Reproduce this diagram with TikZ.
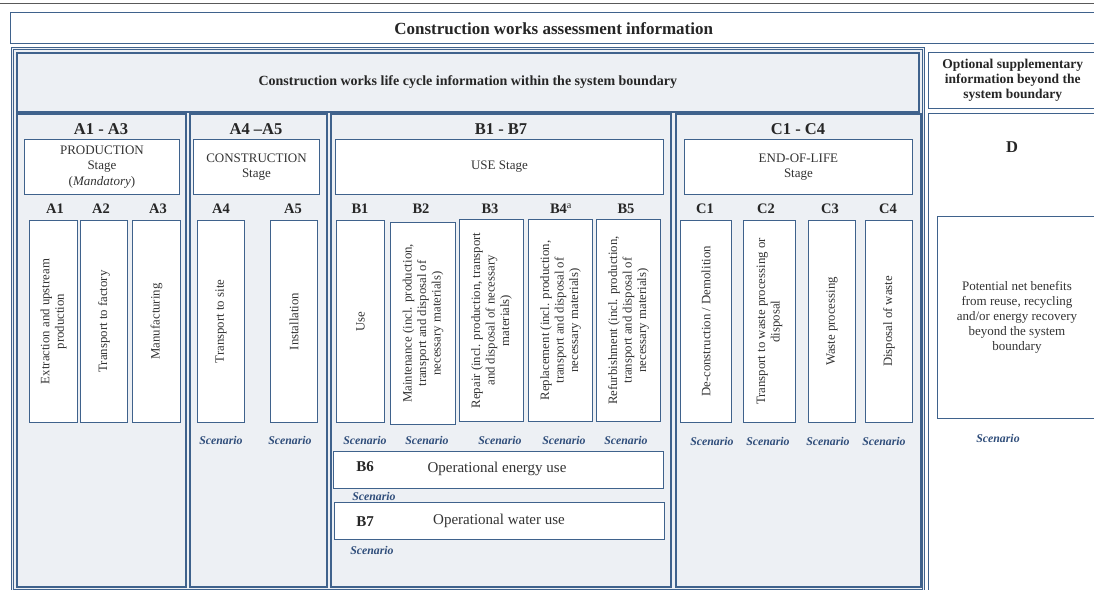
\documentclass[tikz,border=0pt]{standalone}
\usepackage{fontspec}
\setmainfont{Liberation Serif}
\definecolor{bd}{HTML}{3F628C}
\definecolor{bg}{HTML}{EDF0F4}
\definecolor{tx}{HTML}{333333}
\definecolor{sc}{HTML}{2F4D7A}
\newcommand{\bx}[7]{\node[#6, anchor=north west, minimum width={(#4-#2)*1pt}, minimum height={(#5-#3)*1pt}] (#1) at (#2,#3) {#7};}
\tikzset{
  panel/.style={draw=bd, line width=2pt, fill=bg, inner sep=0pt},
  outer/.style={draw=bd, line width=0.8pt, double=bg, double distance=1.4pt, fill=bg, inner sep=0pt},
  wbox/.style={draw=bd, line width=0.9pt, fill=white, inner sep=0pt, align=center, text=tx},
  gbox/.style={draw=bd, line width=1.6pt, fill=bg, inner sep=0pt, align=center},
  hdr/.style={font=\bfseries\fontsize{16.5}{18}\selectfont, text=black!85},
  lab/.style={font=\bfseries\fontsize{14.5}{16}\selectfont, text=black!85},
  stg/.style={font=\fontsize{13}{15.5}\selectfont},
  vt/.style={rotate=90, font=\fontsize{12.8}{14.5}\selectfont, align=center, text=tx, inner sep=0pt},
  scn/.style={font=\bfseries\itshape\fontsize{11.8}{13}\selectfont, text=sc},
  big/.style={font=\fontsize{15}{17}\selectfont, text=tx},
}
\begin{document}
\begin{tikzpicture}[x=1pt,y=-1pt]
\useasboundingbox (0,0) rectangle (1094,589);
\fill[white] (0,0) rectangle (1094,589);
\coordinate (tl) at (0,3); \coordinate (tr) at (1094,3);
\draw[gray!70!black, line width=0.8pt] (tl) -- (tr);
% top
\bx{top}{10}{12}{1096}{43}{draw=bd, line width=1.4pt, fill=white, inner sep=0pt, font=\bfseries\fontsize{17}{19}\selectfont, text=black!85}{Construction works assessment information}
% system boundary
\bx{sys}{12}{48}{923}{590}{outer}{}
\bx{life}{16}{52}{918}{111}{gbox, font=\bfseries\fontsize{14}{16}\selectfont, text=black!85}{Construction works life cycle information within the system boundary}
% optional
\bx{opt}{928}{52}{1096}{108}{draw=bd, line width=1.4pt, fill=white, inner sep=0pt, align=center, font=\bfseries\fontsize{13.5}{15}\selectfont, text=black!85}{Optional supplementary\\information beyond the\\system boundary}
\bx{dbox}{928}{113}{1096}{591}{draw=bd, line width=1.4pt, fill=white, inner sep=0pt}{}
\node[hdr] (dh) at (1012,147) {D};
\bx{dben}{937}{216}{1096}{418}{wbox, font=\fontsize{13}{15}\selectfont}{Potential net benefits\\from reuse, recycling\\and/or energy recovery\\beyond the system\\boundary}
\node[scn] (sD) at (998,438) {Scenario};
% panels
\bx{pA}{16}{113}{185}{586}{panel}{}
\bx{pAA}{189}{113}{326}{586}{panel}{}
\bx{pB}{330}{113}{670}{586}{panel}{}
\bx{pC}{675}{113}{920}{586}{panel}{}
\node[hdr] (hA) at (101,129) {A1 - A3};
\node[hdr] (hAA) at (256,129) {A4 –A5};
\node[hdr] (hB) at (501,129) {B1 - B7};
\node[hdr] (hC) at (798,129) {C1 - C4};
\bx{sA}{24}{139}{179}{194}{wbox, stg}{PRODUCTION\\Stage\\(\textit{Mandatory})}
\bx{sAA}{193}{139}{319}{194}{wbox, stg}{CONSTRUCTION\\Stage}
\bx{sB}{335}{139}{663}{194}{wbox, stg}{USE Stage}
\bx{sC}{684}{139}{912}{194}{wbox, stg}{END-OF-LIFE\\Stage}
% labels
\node[lab] (lA1) at (55,209) {A1};
\node[lab] (lA2) at (101,209) {A2};
\node[lab] (lA3) at (158,209) {A3};
\node[lab] (lA4) at (221,209) {A4};
\node[lab] (lA5) at (293,209) {A5};
\node[lab] (lB1) at (360,209) {B1};
\node[lab] (lB2) at (421,209) {B2};
\node[lab] (lB3) at (490,209) {B3};
\node[lab] (lB4) at (561,209) {B4\textsuperscript{\normalfont a}};
\node[lab] (lB5) at (626,209) {B5};
\node[lab] (lC1) at (705,209) {C1};
\node[lab] (lC2) at (766,209) {C2};
\node[lab] (lC3) at (830,209) {C3};
\node[lab] (lC4) at (888,209) {C4};
% column boxes
\bx{A1}{29}{220}{77}{422}{wbox}{}
\bx{A2}{80}{220}{127}{422}{wbox}{}
\bx{A3}{132}{220}{180}{422}{wbox}{}
\bx{A4}{197}{220}{244}{422}{wbox}{}
\bx{A5}{270}{220}{317}{422}{wbox}{}
\bx{B1}{336}{220}{384}{422}{wbox}{}
\bx{B2}{390}{222}{455}{424}{wbox}{}
\bx{B3}{459}{219}{523}{421}{wbox}{}
\bx{B4}{528}{219}{592}{421}{wbox}{}
\bx{B5}{596}{219}{660}{421}{wbox}{}
\bx{C1}{680}{220}{731}{422}{wbox}{}
\bx{C2}{743}{220}{795}{422}{wbox}{}
\bx{C3}{808}{220}{855}{422}{wbox}{}
\bx{C4}{865}{220}{912}{422}{wbox}{}
\node[vt] (tA1) at (A1.center) {Extraction and upstream\\production};
\node[vt] (tA2) at (A2.center) {Transport to factory};
\node[vt] (tA3) at (A3.center) {Manufacturing};
\node[vt] (tA4) at (A4.center) {Transport to site};
\node[vt] (tA5) at (A5.center) {Installation};
\node[vt] (tB1) at (B1.center) {Use};
\node[vt] (tB2) at (B2.center) {Maintenance (incl. production,\\transport and disposal of\\necessary materials)};
\node[vt] (tB3) at (B3.center) {Repair (incl. production, transport\\and disposal of necessary\\materials)};
\node[vt] (tB4) at (B4.center) {Replacement (incl. production,\\transport and disposal of\\necessary materials)};
\node[vt] (tB5) at (B5.center) {Refurbishment (incl. production,\\transport and disposal of\\necessary materials)};
\node[vt] (tC1) at (C1.center) {De-construction / Demolition};
\node[vt] (tC2) at (C2.center) {Transport to waste processing or\\disposal};
\node[vt] (tC3) at (C3.center) {Waste processing};
\node[vt] (tC4) at (C4.center) {Disposal of waste};
% scenarios
\node[scn] (sA4) at (221,440) {Scenario};
\node[scn] (sA5) at (290,440) {Scenario};
\node[scn] (sB1) at (365,440) {Scenario};
\node[scn] (sB2) at (427,440) {Scenario};
\node[scn] (sB3) at (500,440) {Scenario};
\node[scn] (sB4) at (564,440) {Scenario};
\node[scn] (sB5) at (626,440) {Scenario};
\node[scn] (sC1) at (712,441) {Scenario};
\node[scn] (sC2) at (768,441) {Scenario};
\node[scn] (sC3) at (828,441) {Scenario};
\node[scn] (sC4) at (884,441) {Scenario};
% B6 B7
\bx{B6}{333}{451}{663}{488}{wbox}{}
\node[lab, font=\bfseries\fontsize{15}{17}\selectfont] (lB6) at (365,467) {B6};
\node[big] (tB6) at (497,469) {Operational energy use};
\node[scn] (sB6) at (374,496) {Scenario};
\bx{B7}{334}{502}{664}{539}{wbox}{}
\node[lab, font=\bfseries\fontsize{15}{17}\selectfont] (lB7) at (365,522) {B7};
\node[big] (tB7) at (499,521) {Operational water use};
\node[scn] (sB7) at (372,550) {Scenario};
\end{tikzpicture}
\end{document}
